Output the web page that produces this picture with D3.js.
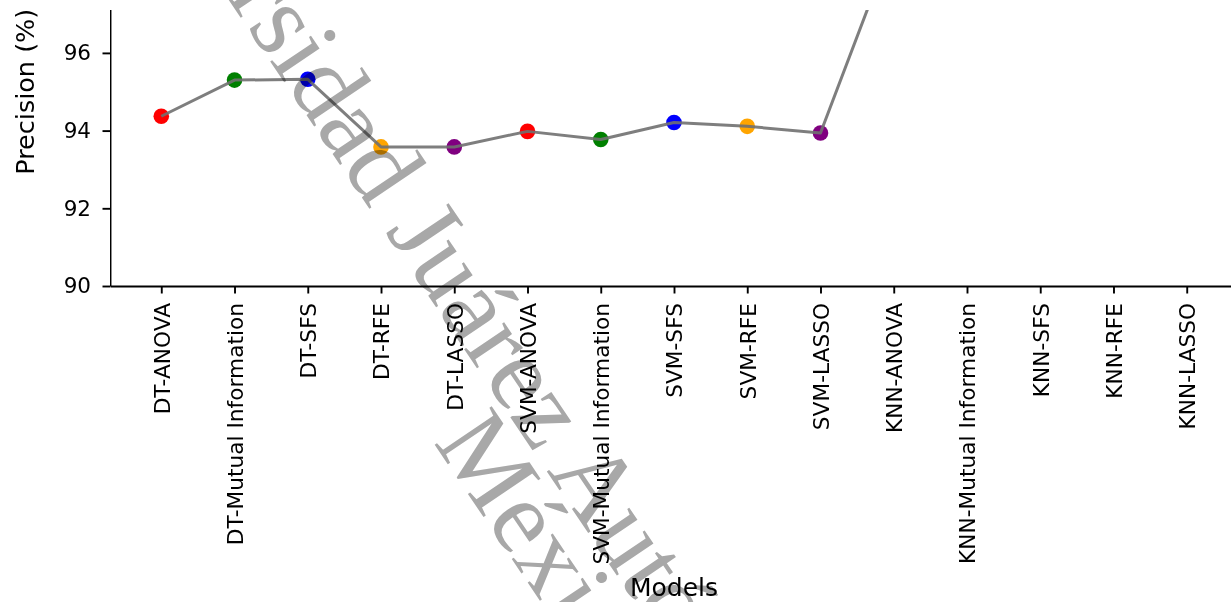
<!DOCTYPE html>
<html>
<head>
<meta charset="utf-8">
<script src="https://cdn.jsdelivr.net/npm/d3@7"></script>
<style>
  body { margin: 0; background: #fff; }
  svg { display: block; }
</style>
</head>
<body>
<svg id="chart" width="1231" height="602"></svg>
<script>
// Models evaluated (classifier + feature selection method)
const models = [
  "DT-ANOVA", "DT-Mutual Information", "DT-SFS", "DT-RFE", "DT-LASSO",
  "SVM-ANOVA", "SVM-Mutual Information", "SVM-SFS", "SVM-RFE", "SVM-LASSO",
  "KNN-ANOVA", "KNN-Mutual Information", "KNN-SFS", "KNN-RFE", "KNN-LASSO"
];
// Precision (%) for each model
const precision = [
  94.37, 95.30, 95.32, 93.58, 93.58,
  93.98, 93.77, 94.21, 94.11, 93.94,
  98.90, 98.70, 99.00, 98.80, 98.60
];
// Marker colour per feature selection method
const methods = ["ANOVA", "Mutual Information", "SFS", "RFE", "LASSO"];
const methodColors = ["red", "green", "blue", "orange", "purple"];
const yTicks = [90, 92, 94, 96, 98, 100];
const yDomain = [90, 100];
const xTitle = "Models";
const yTitle = "Precision (%)";

const svg = d3.select("#chart");
const font = "DejaVu Sans, Verdana, sans-serif";

const plot = { left: 110, right: 1238, bottom: 286, top: -102.5, visibleTop: 10 };

const x = d3.scalePoint()
  .domain(models)
  .range([plot.left, plot.right])
  .padding(0.7);

const y = d3.scaleLinear()
  .domain(yDomain)
  .range([plot.bottom, plot.top]);

const colorOf = d3.scaleOrdinal().domain(methods).range(methodColors);
const methodOf = m => m.slice(m.indexOf("-") + 1);

const defs = svg.append("defs");
defs.append("clipPath").attr("id", "plotClip")
  .append("rect")
  .attr("x", plot.left).attr("y", plot.visibleTop)
  .attr("width", plot.right - plot.left)
  .attr("height", plot.bottom - plot.visibleTop);
defs.append("clipPath").attr("id", "yAxisClip")
  .append("rect")
  .attr("x", 0).attr("y", plot.visibleTop)
  .attr("width", 200).attr("height", 602);

// Points
const series = models.map((m, i) => ({ model: m, value: precision[i] }));
const marks = svg.append("g").attr("clip-path", "url(#plotClip)");

marks.selectAll("circle")
  .data(series)
  .join("circle")
  .attr("cx", d => x(d.model))
  .attr("cy", d => y(d.value))
  .attr("r", 7.8)
  .attr("fill", d => colorOf(methodOf(d.model)));

// Connecting line, drawn over the markers
marks.append("path")
  .datum(series)
  .attr("fill", "none")
  .attr("stroke", "#707070")
  .attr("stroke-opacity", 0.9)
  .attr("stroke-width", 3)
  .attr("stroke-linejoin", "round")
  .attr("d", d3.line().x(d => x(d.model)).y(d => y(d.value)));

// Axes
const xAxis = svg.append("g")
  .attr("transform", `translate(0,${plot.bottom})`)
  .call(d3.axisBottom(x).tickSize(7.5).tickSizeOuter(0));
xAxis.select(".domain").attr("stroke", "#000").attr("stroke-width", 1.9);
xAxis.selectAll(".tick line").attr("stroke", "#000").attr("stroke-width", 1.9);
xAxis.selectAll(".tick text")
  .attr("font-family", font)
  .attr("font-size", 21.7)
  .attr("fill", "#000")
  .attr("text-anchor", "end")
  .attr("transform", "rotate(-90)")
  .attr("x", -17)
  .attr("y", 0)
  .attr("dy", "0.36em");

const yAxis = svg.append("g")
  .attr("transform", `translate(${plot.left},0)`)
  .call(d3.axisLeft(y).tickValues(yTicks).tickFormat(d3.format("d")).tickSize(7.5).tickPadding(11.5).tickSizeOuter(0));
yAxis.select(".domain").attr("stroke", "#000").attr("stroke-width", 1.9)
  .attr("clip-path", "url(#yAxisClip)");
yAxis.selectAll(".tick").filter(d => y(d) < plot.visibleTop).remove();
yAxis.selectAll(".tick line").attr("stroke", "#000").attr("stroke-width", 1.9);
yAxis.selectAll(".tick text")
  .attr("font-family", font)
  .attr("font-size", 21.5)
  .attr("fill", "#000");

// Axis titles
svg.append("text")
  .attr("x", (plot.left + plot.right) / 2)
  .attr("y", 596)
  .attr("text-anchor", "middle")
  .attr("font-family", font)
  .attr("font-size", 25)
  .attr("fill", "#000")
  .text(xTitle);

svg.append("text")
  .attr("transform", `translate(25,${(plot.top + plot.bottom) / 2}) rotate(-90)`)
  .attr("text-anchor", "middle")
  .attr("dy", "0.36em")
  .attr("font-family", font)
  .attr("font-size", 25.5)
  .attr("fill", "#000")
  .text(yTitle);

// Repository watermark
const wmSize = 105;
const wm = svg.append("g")
  .attr("transform", "translate(425,229) rotate(56)")
  .style("mix-blend-mode", "multiply")
  .attr("font-family", "Liberation Serif, Times New Roman, serif")
  .attr("font-size", wmSize)
  .attr("fill", "#a8a8a8");

const line1 = wm.append("text").attr("y", 0.33 * wmSize)
  .text("Universidad Juárez Autónoma de Tabasco.");
const n1 = line1.node();
const before = n1.getSubStringLength(0, "Universidad ".length);
const jW = n1.getSubStringLength("Universidad ".length, 1);
line1.attr("x", -(before + jW / 2));

const line2 = wm.append("text").attr("y", 0.33 * wmSize + 78)
  .text("México.");
const mW = line2.node().getSubStringLength(0, 1);
line2.attr("x", 228 - mW / 2);
</script>
</body>
</html>
